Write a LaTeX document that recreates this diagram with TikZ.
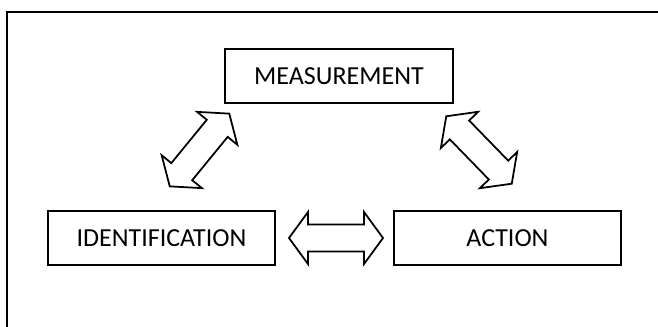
\documentclass[tikz,border=0pt]{standalone}
\usepackage{fontspec}
\setmainfont{Carlito}
\begin{document}
\begin{tikzpicture}[x=0.02cm, y=-0.02cm,
  box/.style={draw, line width=1.1pt, inner sep=0pt, font=\fontsize{14.8}{17}\selectfont},
  dblarrow/.pic={
    \draw[line width=1pt, line join=miter, fill=white]
      (-47,0) -- (-28,26) -- (-28,13.5) -- (28,13.5) -- (28,26) -- (47,0)
      -- (28,-26) -- (28,-13.5) -- (-28,-13.5) -- (-28,-26) -- cycle;
  }]
  \useasboundingbox (0,0) rectangle (658,327);
  \clip (0,0) rectangle (658,327);
  % outer frame (runs past the right and bottom edges)
  \draw[line width=1.1pt] (7,12) rectangle (700,400);

  % boxes
  \node[box, minimum width=228*0.02cm, minimum height=54*0.02cm] (meas) at (339,76) {MEASUREMENT};
  \node[box, minimum width=227*0.02cm, minimum height=54*0.02cm] (ident) at (161.5,238) {IDENTIFICATION};
  \node[box, minimum width=227*0.02cm, minimum height=54*0.02cm] (act) at (507.5,238) {ACTION};

  % block arrows between the boxes
  \pic[rotate=50.7] (ia) at (199.5,150) {dblarrow};
  \pic[rotate=-45.8] (ma) at (479,150) {dblarrow};
  \pic (ha) at (336,238) {dblarrow};
\end{tikzpicture}
\end{document}
